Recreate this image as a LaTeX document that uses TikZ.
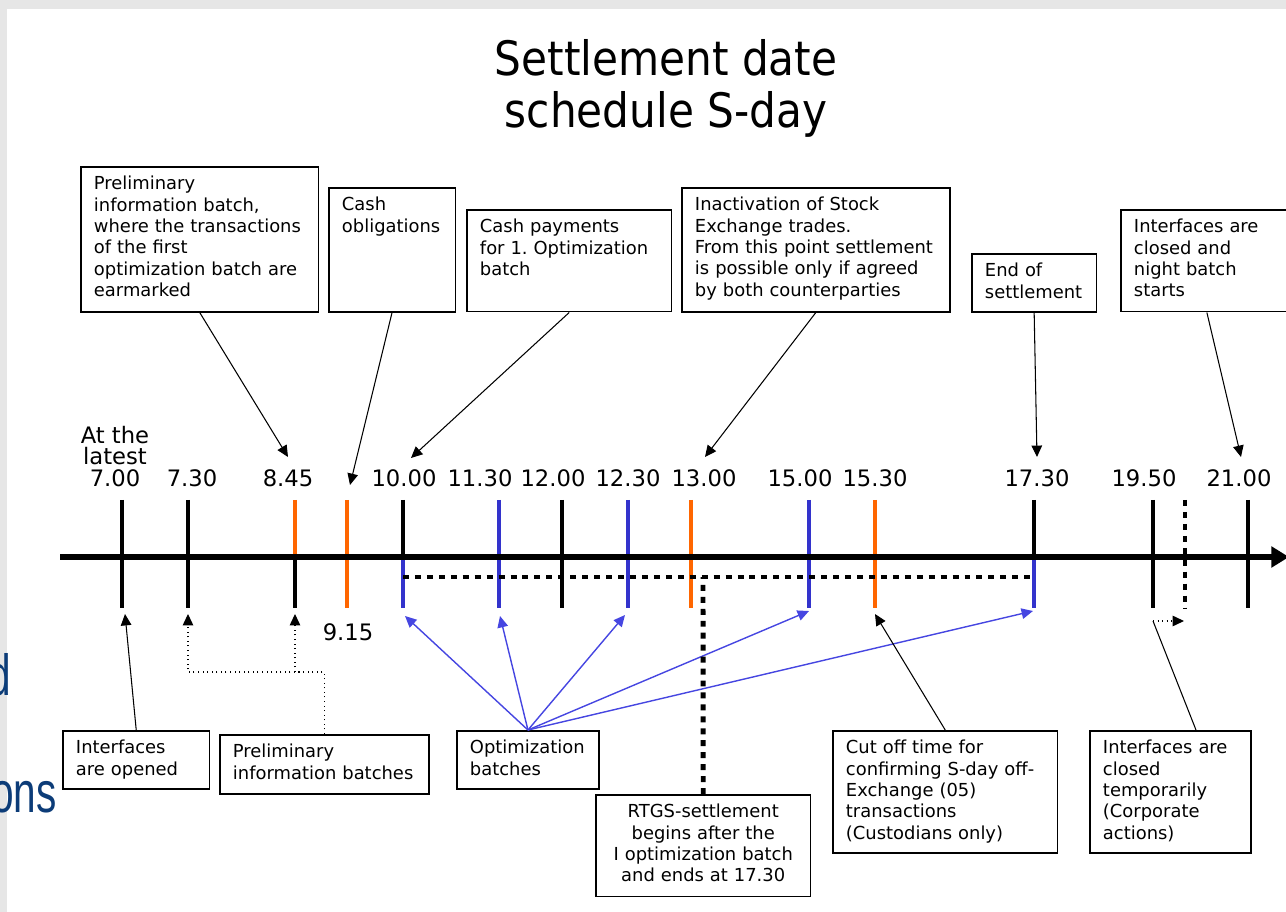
\documentclass[tikz,border=0pt]{standalone}
\usepackage{fontspec}
\setmainfont{DejaVu Sans}
\newfontfamily\titlefont[FakeStretch=0.89]{DejaVu Sans}
\newfontfamily\slidefont[FakeStretch=0.7]{Liberation Sans}
\usetikzlibrary{arrows.meta,positioning,calc}
\definecolor{tickorange}{RGB}{255,102,0}
\definecolor{tickblue}{RGB}{51,51,204}
\definecolor{linkblue}{RGB}{70,70,225}
\definecolor{slideblue}{RGB}{12,60,120}
\definecolor{framegray}{RGB}{230,230,230}
\frenchspacing
\begin{document}
\begin{tikzpicture}[x=0.02cm,y=-0.02cm,>={Triangle[length=6.5pt,width=6pt]},
    note/.style={draw,line width=0.9pt,anchor=north west,align=left,inner xsep=7.5pt,inner ysep=4pt,text height=9pt,font=\fontsize{10.2}{12.2}\selectfont},
    time/.style={font=\fontsize{12.9}{12}\selectfont,inner sep=0pt,anchor=base},
    tick/.style={line width=2.8pt},
    link/.style={->,line width=0.6pt},
    batch/.style={->,line width=0.8pt,linkblue},
    rtgs/.style={line width=2.8pt,dash pattern=on 3.4pt off 3.4pt},
    hint/.style={->,line width=0.6pt,dotted}]
    % frame
    \fill[framegray] (0,0) rectangle (1286,9);
    \fill[framegray] (0,0) rectangle (7,912);
    \useasboundingbox (0,0) rectangle (1286,912);
    \node[font=\slidefont\fontsize{33}{33}\selectfont,text=slideblue,anchor=base east,inner sep=0pt] (frag1) at (11,695) {d};
    \node[font=\slidefont\fontsize{33}{33}\selectfont,text=slideblue,anchor=base east,inner sep=0pt] (frag2) at (57,812) {ons};
    % title
    \node[font=\titlefont\fontsize{27}{30}\selectfont,align=center,anchor=base,inner sep=0pt] (title) at (666,128) {Settlement date\\schedule S-day};
    % time line
    \foreach \x/\up/\down in {122/black/black,188/black/black,295/tickorange/black,347/tickorange/tickorange,
        403/black/tickblue,499/tickblue/tickblue,562/black/black,628/tickblue/tickblue,691/tickorange/tickorange,
        809/tickblue/tickblue,875/tickorange/tickorange,1034/black/tickblue,1153/black/black,1248/black/black}{
      \draw[tick,\up] (\x,500) -- (\x,557);
      \draw[tick,\down] (\x,557) -- (\x,608);
    }
    \draw[line width=3.7pt,-{Triangle[length=10pt,width=11.5pt]}] (60,557) -- (1289,557);
    \draw[rtgs] (403,577) -- (1034,577);
    \draw[rtgs] (1185,500) -- (1185,608);
    % times
    \node[time,align=center] (t0700) at (115,486) {At the\\latest\\7.00};
    \foreach \x/\t/\n in {192/7.30/t0730,288/8.45/t0845,404/10.00/t1000,480/11.30/t1130,553/12.00/t1200,
        628/12.30/t1230,704/13.00/t1300,800/15.00/t1500,875/15.30/t1530,1037/17.30/t1730,1144/19.50/t1950,1239/21.00/t2100}
      \node[time] (\n) at (\x,486) {\t};
    \node[time] (t0915) at (348,640) {9.15};
    % top notes
    \node[note,text width=120.4pt,text depth=65.5pt] (earmark) at (80,166) {Preliminary\\information batch,\\where the transactions\\of the first\\optimization batch are\\earmarked};
    \node[note,text width=57pt,text depth=53.6pt] (cashob) at (328,187) {Cash\\obligations};
    \node[note,text width=101.6pt,text depth=41pt] (cashpay) at (466,209) {Cash payments\\for 1. Optimization\\batch};
    \node[note,text width=137.5pt,text depth=53.6pt] (inactive) at (681,187) {Inactivation of Stock\\Exchange trades.\\From this point settlement\\is possible only if agreed\\by both counterparties};
    \node[note,text width=56pt,text depth=16pt] (endset) at (971,253) {End of\\settlement};
    \node[note,text width=83pt,text depth=41pt] (nightbatch) at (1120,209) {Interfaces are\\closed and\\night batch\\starts};
    % bottom notes
    \node[note,text width=68.6pt,text depth=16pt] (opened) at (62,730) {Interfaces\\are opened};
    \node[note,text width=104pt,text depth=16.6pt] (prelimbatch) at (219,734) {Preliminary\\information batches};
    \node[note,text width=66pt,text depth=16pt] (optbatch) at (456,730) {Optimization\\batches};
    \node[note,align=center,text width=107.3pt,text depth=41pt] (rtgsbox) at (595,794) {RTGS-settlement\\begins after the\\I optimization batch\\and ends at 17.30};
    \node[note,text width=113pt,text depth=52.4pt] (cutoff) at (832,730) {Cut off time for\\confirming S-day off-\\Exchange (05)\\transactions\\(Custodians only)};
    \node[note,text width=76.6pt,text depth=52.4pt] (tempclosed) at (1089,730) {Interfaces are\\closed\\temporarily\\(Corporate\\actions)};
    % arrow ends
    \coordinate (p0845) at (288,457);
    \coordinate (p0915) at (350,485);
    \coordinate (p1000) at (411,458);
    \coordinate (p1300) at (705,457);
    \coordinate (p1730) at (1037,457);
    \coordinate (p2100) at (1241,457);
    \coordinate (q0700) at (125,614);
    \coordinate (q0730) at (188,614);
    \coordinate (q0845) at (295,614);
    \coordinate (fork) at (295,672);
    \coordinate (q1000) at (405,616);
    \coordinate (q1130) at (500,616);
    \coordinate (q1230) at (625,615);
    \coordinate (q1500) at (809,611);
    \coordinate (q1530) at (875,614);
    \coordinate (q1730) at (1033,611);
    \coordinate (q1950) at (1153,621);
    \coordinate (q2000) at (1184,621);
    % arrows
    \draw[link] (earmark.south) -- (p0845);
    \draw[link] (cashob.south) -- (p0915);
    \draw[link] (cashpay.south) -- (p1000);
    \draw[link] (inactive.south) -- (p1300);
    \draw[link] (endset.south) -- (p1730);
    \draw[link] (nightbatch.south) -- (p2100);
    \draw[link] (opened.north) -- (q0700);
    \draw[hint] (prelimbatch.north) |- (fork) -| (q0730);
    \draw[hint] (fork) -- (q0845);
    \foreach \q in {q1000,q1130,q1230,q1500,q1730}
      \draw[batch] (optbatch.north) -- (\q);
    \draw[rtgs] (rtgsbox.north) -- (703,577);
    \draw[link] (cutoff.north) -- (q1530);
    \draw[line width=0.6pt] (tempclosed.north west) ++(107,0) -- (q1950);
    \draw[hint] (q1950) -- (q2000);
  \end{tikzpicture}
\end{document}
